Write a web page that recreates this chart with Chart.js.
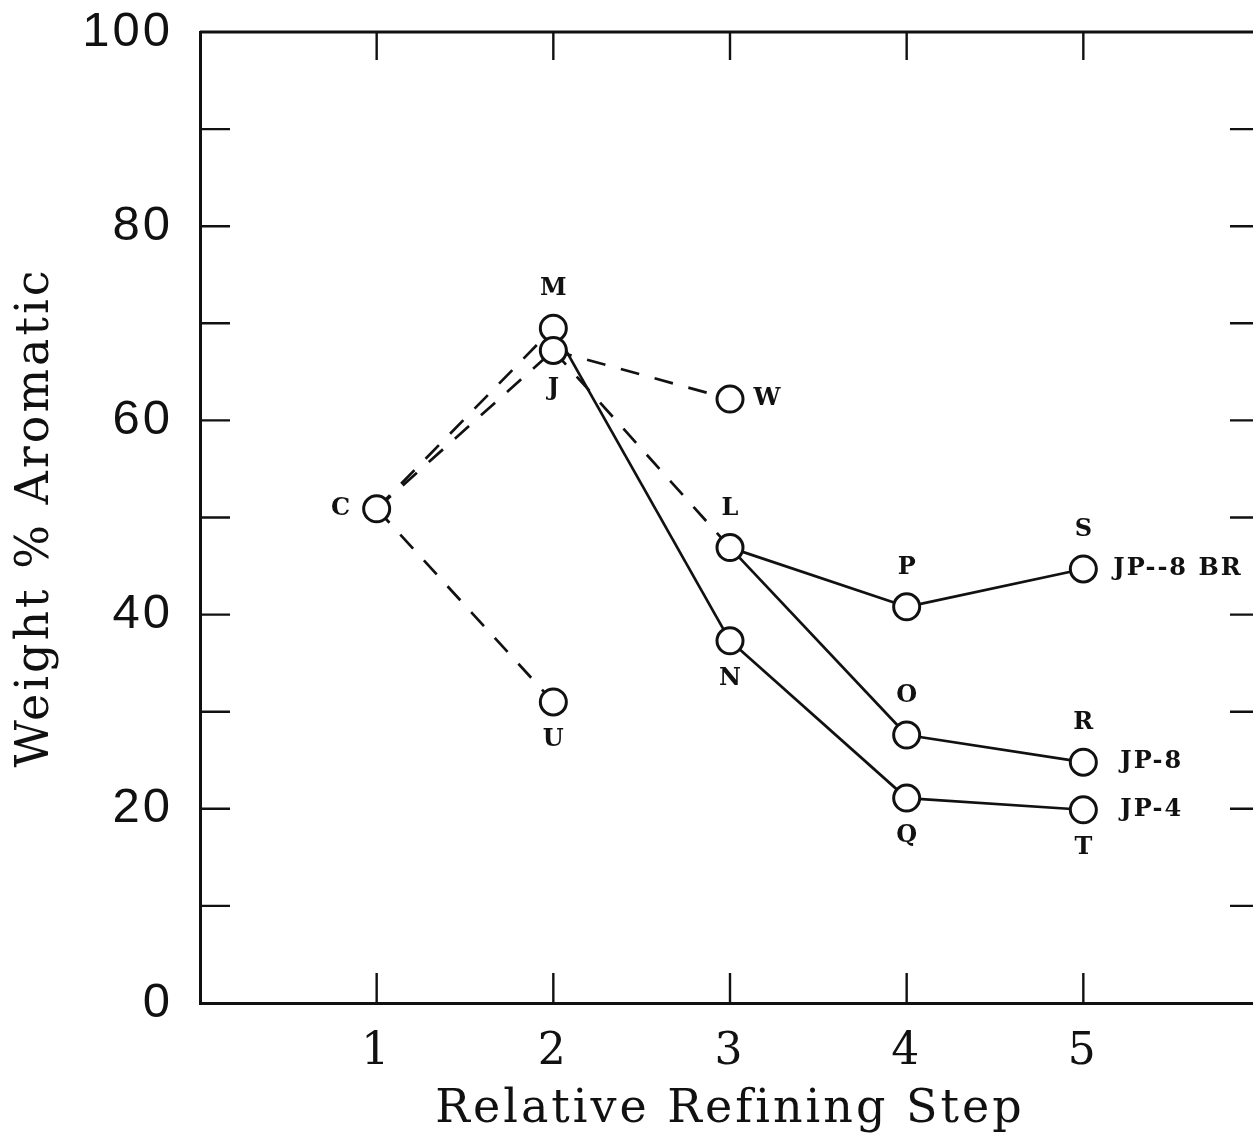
<!DOCTYPE html>
<html>
<head>
<meta charset="utf-8">
<script src="https://cdn.jsdelivr.net/npm/chart.js@4/dist/chart.umd.min.js"></script>
<style>
  html, body { margin: 0; padding: 0; background: #fff; overflow: hidden; }
  #wrap { width: 1253px; height: 1138px; overflow: hidden; }
  canvas { display: block; }
</style>
</head>
<body>
<div id="wrap"><canvas id="c" width="1270" height="1138"></canvas></div>
<script>
// ---- data ----
const xTickValues = [1, 2, 3, 4, 5];
const yTickLabels = [0, 20, 40, 60, 80, 100];
const yMinorTicks = [10, 20, 30, 40, 50, 60, 70, 80, 90];

const pointNames = ['C', 'M', 'J', 'U', 'W', 'L', 'N', 'P', 'O', 'Q', 'S', 'R', 'T'];
const pointSteps = [1, 2, 2, 2, 3, 3, 3, 4, 4, 4, 5, 5, 5];
const pointAromatic = [50.9, 69.5, 67.2, 31.0, 62.2, 46.9, 37.3, 40.8, 27.6, 21.1, 44.7, 24.8, 19.9];
const pointLabelSide = ['left', 'above', 'below', 'below', 'right', 'above', 'below', 'above', 'above', 'below', 'above', 'above', 'below'];

const segFrom = ['C', 'C', 'C', 'J', 'J', 'M', 'N', 'Q', 'L', 'P', 'L', 'O'];
const segTo   = ['M', 'J', 'U', 'W', 'L', 'N', 'Q', 'T', 'P', 'S', 'O', 'R'];
const segDashed = [true, true, true, true, true, false, false, false, false, false, false, false];

const seriesNames = ['JP--8 BR', 'JP-8', 'JP-4'];
const seriesEndPoint = ['S', 'R', 'T'];

const xTitle = 'Relative Refining Step';
const yTitle = 'Weight % Aromatic';

// ---- build datasets ----
const INK = '#111';
function pt(name) {
  const i = pointNames.indexOf(name);
  return { x: pointSteps[i], y: pointAromatic[i] };
}
const datasets = [];
datasets.push({
  type: 'scatter',
  data: pointNames.map(pt),
  pointRadius: 13,
  pointHoverRadius: 13,
  pointBackgroundColor: '#fff',
  pointBorderColor: INK,
  pointBorderWidth: 3,
  showLine: false,
  order: 0
});
segFrom.forEach((f, k) => {
  datasets.push({
    type: 'scatter',
    data: [pt(f), pt(segTo[k])],
    showLine: true,
    borderColor: INK,
    borderWidth: 2.7,
    borderDash: segDashed[k] ? [19, 16] : [],
    pointRadius: 0,
    pointHoverRadius: 0,
    order: 1
  });
});

const framePlugin = {
  id: 'frame',
  beforeDraw(chart) {
    chart.ctx.letterSpacing = '3px';
  },
  beforeDatasetsDraw(chart) {
    const { ctx, chartArea: a, scales: { x, y } } = chart;
    ctx.letterSpacing = '0px';
    ctx.save();
    ctx.strokeStyle = INK;
    ctx.lineWidth = 2.8;
    ctx.beginPath();
    ctx.moveTo(a.left, a.top); ctx.lineTo(a.right, a.top);
    ctx.moveTo(a.right, a.top); ctx.lineTo(a.right, a.bottom);
    ctx.stroke();
    ctx.lineWidth = 2.4;
    ctx.beginPath();
    yMinorTicks.forEach(v => {
      const py = y.getPixelForValue(v);
      ctx.moveTo(a.left, py); ctx.lineTo(a.left + 30, py);
      ctx.moveTo(a.right, py); ctx.lineTo(a.right - 30, py);
    });
    xTickValues.forEach(v => {
      const px = x.getPixelForValue(v);
      ctx.moveTo(px, a.top); ctx.lineTo(px, a.top + 28);
      ctx.moveTo(px, a.bottom); ctx.lineTo(px, a.bottom - 30);
    });
    ctx.stroke();
    ctx.restore();
  },
  afterDatasetsDraw(chart) {
    const { ctx, scales: { x, y } } = chart;
    ctx.save();
    ctx.fillStyle = INK;
    ctx.font = 'bold 24px "DejaVu Serif"';
    ctx.textBaseline = 'middle';
    ctx.textAlign = 'center';
    pointNames.forEach((n, i) => {
      const px = x.getPixelForValue(pointSteps[i]);
      const py = y.getPixelForValue(pointAromatic[i]);
      const side = pointLabelSide[i];
      if (side === 'above') ctx.fillText(n, px, py - 39);
      else if (side === 'below') ctx.fillText(n, px, py + 38);
      else if (side === 'left') ctx.fillText(n, px - 36, py);
      else ctx.fillText(n, px + 37, py);
    });
    ctx.font = 'bold 24px "DejaVu Serif"';
    ctx.letterSpacing = '2px';
    ctx.textAlign = 'left';
    seriesNames.forEach((s, k) => {
      const p = pt(seriesEndPoint[k]);
      const px = x.getPixelForValue(p.x);
      const py = y.getPixelForValue(p.y);
      ctx.fillText(s, px + (k === 0 ? 30 : 37), py);
    });
    ctx.restore();
    ctx.letterSpacing = '0px';
  }
};

new Chart(document.getElementById('c'), {
  data: { datasets },
  options: {
    responsive: false,
    animation: false,
    events: [],
    layout: { autoPadding: false, padding: { top: 32, right: 10, left: 0, bottom: 0 } },
    plugins: { legend: { display: false }, tooltip: { enabled: false } },
    scales: {
      x: {
        type: 'linear',
        min: 0, max: 6,
        afterFit(s) { s.height = 135; s.paddingLeft = 0; s.paddingRight = 0; },
        ticks: {
          stepSize: 1,
          autoSkip: false,
          maxRotation: 0,
          padding: 23,
          color: INK,
          font: { family: '"DejaVu Serif"', size: 44 },
          callback: v => xTickValues.includes(v) ? String(v) : ''
        },
        grid: { display: false, drawTicks: false },
        border: { display: true, width: 3, color: INK },
        title: {
          display: true, text: xTitle, color: INK,
          font: { family: '"DejaVu Serif"', size: 46 },
          padding: { top: 0, bottom: 0 }
        }
      },
      y: {
        type: 'linear',
        min: 0, max: 100,
        afterFit(s) { s.width = 200; s.paddingTop = 0; s.paddingBottom = 0; },
        ticks: {
          stepSize: 10,
          autoSkip: false,
          padding: 27,
          color: INK,
          font: { family: '"Liberation Sans"', size: 49 },
          callback: v => yTickLabels.includes(v) ? String(v) : ''
        },
        grid: { display: false, drawTicks: false },
        border: { display: true, width: 3, color: INK },
        title: {
          display: true, text: yTitle, color: INK,
          font: { family: '"DejaVu Serif"', size: 46 },
          padding: { top: 8, bottom: 0 }
        }
      }
    }
  },
  plugins: [framePlugin]
});
</script>
</body>
</html>
